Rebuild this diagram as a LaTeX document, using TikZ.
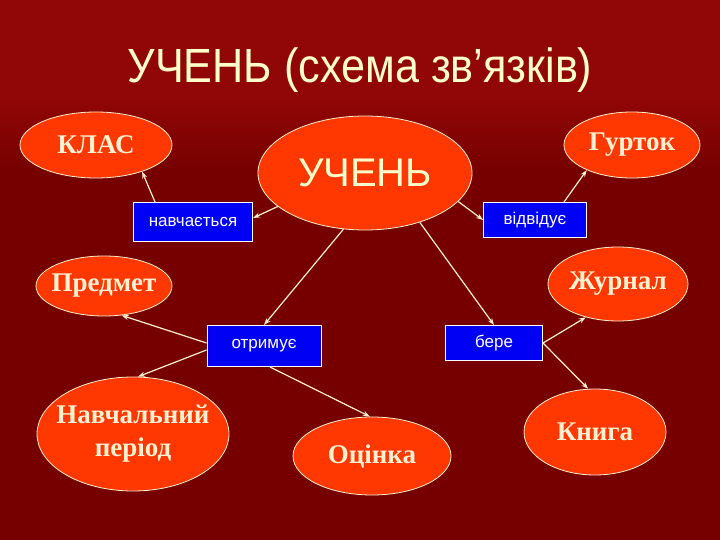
\documentclass[tikz,border=0pt]{standalone}
\usepackage{fontspec}
\setmainfont{Liberation Serif}
\setsansfont{Liberation Sans}
\usetikzlibrary{arrows.meta,shapes.geometric}
\definecolor{bgdark}{RGB}{118,0,0}
\definecolor{bgtop}{RGB}{145,6,6}
\definecolor{ellfill}{RGB}{255,55,0}
\definecolor{cream}{RGB}{255,240,210}
\definecolor{boxblue}{RGB}{0,0,245}
\definecolor{titlecol}{RGB}{255,255,204}
\begin{document}
\begin{tikzpicture}[x=1pt,y=-1pt,
  oval/.style={ellipse, draw=cream, line width=0.8pt, fill=ellfill, inner xsep=-40pt, inner ysep=-20pt,
    text=cream, font=\fontsize{27}{33}\selectfont\bfseries, align=center},
  relbox/.style={rectangle, draw=white, line width=1pt, fill=boxblue, text=white,
    font=\sffamily\fontsize{17}{20}\selectfont, inner sep=0pt},
  link/.style={draw=cream, line width=1.2pt, -{Stealth[length=7pt,width=5pt]}}]
\useasboundingbox (0,0) rectangle (720,540);
\fill[bgdark] (0,0) rectangle (720,540);
\fill[bgtop] (0,0) rectangle (720,100);
\shade[top color=bgtop, bottom color=bgdark] (0,99) rectangle (720,170);
% title
\node[font=\sffamily\fontsize{48}{56}\selectfont, text=titlecol, xscale=0.9] (title) at (360,70) {УЧЕНЬ (схема зв’язків)};
% ellipses
\node[oval, minimum width=152, minimum height=66] (klas) at (96,145) {КЛАС};
\node[oval, minimum width=214, minimum height=114, font=\sffamily\fontsize{40}{46}\selectfont, text=titlecol] (uchen) at (365,173) {УЧЕНЬ};
\node[oval, minimum width=136, minimum height=66] (hurt) at (632,145) {Гурток};
\node[oval, minimum width=136, minimum height=60] (pred) at (104,286) {Предмет};
\node[oval, minimum width=140, minimum height=74] (zhur) at (618,284) {Журнал};
\node[oval, minimum width=192, minimum height=114] (nav) at (133,434) {Навчальний\\період};
\node[oval, minimum width=158, minimum height=78] (ocin) at (372,456) {Оцінка};
\node[oval, minimum width=142, minimum height=86] (knyha) at (595,432) {Книга};
% relation boxes
\node[relbox, minimum width=119, minimum height=39] (navch) at (193,222) {навчається};
\node[relbox, minimum width=103, minimum height=35] (vidv) at (535,220) {відвідує};
\node[relbox, minimum width=114, minimum height=41] (otr) at (264,346) {отримує};
\node[relbox, minimum width=97, minimum height=35] (bere) at (494,343) {бере};
% connectors
\draw[link] (uchen.201) -- ([yshift=4pt]navch.east);
\draw[link] ([xshift=-38pt]navch.north) -- (klas.330);
\draw[link] (uchen.343) -- (vidv.west);
\draw[link] ([xshift=29pt]vidv.north) -- (hurt.209);
\draw[link] (uchen.249) -- (otr.north);
\draw[link] (uchen.318) -- (bere.north);
\draw[link] ([yshift=3pt]otr.west) -- (pred.301);
\draw[link] ([yshift=-4pt]otr.west) -- (nav.85);
\draw[link] ([xshift=6pt]otr.south) -- (ocin.93);
\draw[link] (bere.east) -- (zhur.226);
\draw[link] (bere.east) -- (knyha.99);
\end{tikzpicture}
\end{document}
